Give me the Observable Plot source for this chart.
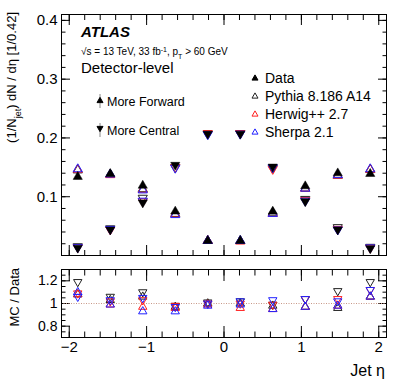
<!DOCTYPE html>
<html><head><meta charset="utf-8">
<script src="https://cdn.jsdelivr.net/npm/d3@7"></script>
<script src="https://cdn.jsdelivr.net/npm/@observablehq/plot@0.6"></script>
<style>
body{margin:0;background:#fff;}
#wrap{position:relative;width:407px;height:387px;font-family:"Liberation Sans",Arial,sans-serif;}
#wrap > *{position:absolute;left:0;}
</style></head>
<body><div id="wrap"></div>
<script>
// ---- data ----
const eta = [-1.89, -1.47, -1.05, -0.63, -0.21, 0.21, 0.63, 1.05, 1.47, 1.89];
const dataFwd = [0.134, 0.139, 0.119, 0.075, 0.025, 0.025, 0.075, 0.118, 0.140, 0.139];
const dataCen = [0.013, 0.044, 0.090, 0.154, 0.207, 0.207, 0.151, 0.092, 0.044, 0.012];
const pythiaFwd = [0.145, 0.138, 0.113, 0.071, 0.025, 0.025, 0.073, 0.114, 0.136, 0.146];
const pythiaCen = [0.0155, 0.046, 0.098, 0.150, 0.207, 0.208, 0.149, 0.096, 0.048, 0.0145];
const herwigFwd = [0.146, 0.137, 0.112, 0.070, 0.025, 0.024, 0.071, 0.114, 0.136, 0.146];
const herwigCen = [0.014, 0.044, 0.092, 0.150, 0.208, 0.208, 0.147, 0.094, 0.045, 0.013];
const sherpaFwd = [0.147, 0.138, 0.111, 0.069, 0.025, 0.025, 0.071, 0.114, 0.137, 0.147];
const sherpaCen = [0.014, 0.045, 0.093, 0.149, 0.206, 0.207, 0.150, 0.093, 0.044, 0.0135];
const pythiaFwdR = [1.08, 1.03, 1.06, 0.97, 1.00, 1.00, 0.98, 0.97, 0.96, 1.06];
const pythiaCenR = [1.19, 1.06, 1.10, 0.98, 1.01, 1.02, 0.99, 1.04, 1.11, 1.19];
const herwigFwdR = [1.08, 0.99, 0.97, 0.96, 0.99, 0.96, 0.95, 0.97, 0.98, 1.06];
const herwigCenR = [1.09, 1.02, 1.03, 0.98, 1.00, 1.00, 0.99, 1.04, 1.04, 1.12];
const sherpaFwdR = [1.10, 0.99, 0.93, 0.93, 0.98, 0.99, 0.95, 0.97, 0.98, 1.06];
const sherpaCenR = [1.06, 1.03, 1.05, 0.97, 1.00, 1.02, 1.03, 1.04, 1.02, 1.12];
const generators = ["Pythia 8.186 A14", "Herwig++ 2.7", "Sherpa 2.1"];
const genColors = ["#222222", "#ff2020", "#2020ff"];
const topYTicks = [0.1, 0.2, 0.3, 0.4];
const ratioYTicks = [0.8, 1, 1.2];
const xTicks = [-2, -1, 0, 1, 2];

// ---- build tables ----
function rows(vals, gen, dir) { return eta.map((e, i) => ({eta: e, v: vals[i], gen, dir})); }
const mcTop = [
  ...rows(pythiaFwd, generators[0], "f"), ...rows(pythiaCen, generators[0], "c"),
  ...rows(herwigFwd, generators[1], "f"), ...rows(herwigCen, generators[1], "c"),
  ...rows(sherpaFwd, generators[2], "f"), ...rows(sherpaCen, generators[2], "c")];
const dataTop = [...rows(dataFwd, "Data", "f"), ...rows(dataCen, "Data", "c")];
const mcRatio = [
  ...rows(pythiaFwdR, generators[0], "f"), ...rows(pythiaCenR, generators[0], "c"),
  ...rows(herwigFwdR, generators[1], "f"), ...rows(herwigCenR, generators[1], "c"),
  ...rows(sherpaFwdR, generators[2], "f"), ...rows(sherpaCenR, generators[2], "c")];

const colorOf = g => genColors[generators.indexOf(g)];
const range = (a, b, s) => d3.range(Math.round((b - a) / s) + 1).map(i => +(a + i * s).toFixed(4));

function tickAxes(xMaj, xMin, yMaj, yMin, xl, yl) {
  const blank = () => "";
  const o = {label: null, tickFormat: blank, stroke: "black"};
  return [
    Plot.axisX(xMaj, {...o, anchor: "bottom", tickSize: -xl}),
    Plot.axisX(xMin, {...o, anchor: "bottom", tickSize: -xl / 2}),
    Plot.axisX(xMaj, {...o, anchor: "top", tickSize: -xl}),
    Plot.axisX(xMin, {...o, anchor: "top", tickSize: -xl / 2}),
    Plot.axisY(yMaj, {...o, anchor: "left", tickSize: -yl}),
    Plot.axisY(yMin, {...o, anchor: "left", tickSize: -yl / 2}),
    Plot.axisY(yMaj, {...o, anchor: "right", tickSize: -yl}),
    Plot.axisY(yMin, {...o, anchor: "right", tickSize: -yl / 2})
  ];
}
const font = '"Liberation Sans", Arial, sans-serif';
const R = 3.4;

const topPlot = Plot.plot({
  width: 407, height: 256,
  marginLeft: 61, marginRight: 21, marginTop: 14, marginBottom: 1,
  x: {domain: [-2.1, 2.1]},
  y: {domain: [0, 0.41]},
  style: {fontFamily: font, fontSize: "15px", color: "black", background: "transparent"},
  marks: [
    ...tickAxes(xTicks, range(-2, 2, 0.2), topYTicks, range(0, 0.4, 0.02), 10, 9),
    Plot.axisY(topYTicks, {anchor: "left", label: null, tickSize: 0, tickPadding: 4, tickFormat: d => d.toFixed(1), fontSize: 15}),
    Plot.dot(mcTop, {x: "eta", y: "v", symbol: "triangle", r: R, rotate: d => d.dir === "c" ? 180 : 0,
      stroke: d => colorOf(d.gen), fill: "none", strokeWidth: 1}),
    Plot.dot(dataTop, {x: "eta", y: "v", symbol: "triangle", r: R, rotate: d => d.dir === "c" ? 180 : 0,
      fill: "black", stroke: "black", strokeWidth: 0.5}),
    Plot.frame({stroke: "black", strokeWidth: 1})
  ]
});

const ratioPlot = Plot.plot({
  width: 407, height: 131,
  marginLeft: 61, marginRight: 21, marginTop: 13, marginBottom: 50,
  x: {domain: [-2.1, 2.1]},
  y: {domain: [0.7, 1.3]},
  style: {fontFamily: font, fontSize: "15px", color: "black", background: "transparent"},
  marks: [
    ...tickAxes(xTicks, range(-2, 2, 0.2), ratioYTicks, range(0.75, 1.25, 0.05), 11, 9),
    Plot.axisY(ratioYTicks, {anchor: "left", label: null, tickSize: 0, tickPadding: 4, tickFormat: d => d === 1 ? "1" : d.toFixed(1), fontSize: 14}),
    Plot.axisX(xTicks, {anchor: "bottom", label: null, tickSize: 0, tickPadding: 4, fontSize: 15}),
    Plot.ruleY([1], {stroke: "#c89888", strokeDasharray: "1,1.5", strokeWidth: 1}),
    Plot.dot(mcRatio, {x: "eta", y: "v", symbol: "triangle", r: 3.1, rotate: d => d.dir === "c" ? 180 : 0,
      stroke: d => colorOf(d.gen), fill: "none", strokeWidth: 1}),
    Plot.frame({stroke: "black", strokeWidth: 1})
  ]
});

const wrap = document.getElementById("wrap");
topPlot.style.top = "0px";
ratioPlot.style.top = "256px";
wrap.append(topPlot, ratioPlot);

// ---- text overlay (titles, legend) ----
const svg = d3.select(wrap).append("svg").attr("width", 407).attr("height", 387)
  .style("top", "0px").style("font-family", font);

function tri(g, x, y, size, down, fill, stroke) {
  const h = size * 0.87;
  const p = down ? `M${x - size / 2},${y - h / 2}L${x + size / 2},${y - h / 2}L${x},${y + h / 2}Z`
                 : `M${x - size / 2},${y + h / 2}L${x + size / 2},${y + h / 2}L${x},${y - h / 2}Z`;
  g.append("path").attr("d", p).attr("fill", fill).attr("stroke", stroke).attr("stroke-width", 1);
}

svg.append("text").attr("x", 81).attr("y", 37).attr("font-size", 15).attr("font-weight", "bold")
  .attr("font-style", "italic").text("ATLAS");
const s = svg.append("text").attr("x", 81).attr("y", 55).attr("font-size", 10);
s.append("tspan").text("√s = 13 TeV, 33 fb");
s.append("tspan").attr("baseline-shift", "super").attr("font-size", 7).text("-1");
s.append("tspan").text(", p");
s.append("tspan").attr("baseline-shift", "sub").attr("font-size", 7).text("T");
s.append("tspan").text(" > 60 GeV");
svg.append("text").attr("x", 81).attr("y", 73).attr("font-size", 15).text("Detector-level");

// direction legend
svg.append("line").attr("x1", 100).attr("x2", 100).attr("y1", 94).attr("y2", 108).attr("stroke", "#888");
tri(svg, 100, 100, 6, false, "black", "black");
svg.append("text").attr("x", 107).attr("y", 105.5).attr("font-size", 12.5).text("More Forward");
svg.append("line").attr("x1", 100).attr("x2", 100).attr("y1", 123).attr("y2", 137).attr("stroke", "#888");
tri(svg, 100, 129, 6, true, "black", "black");
svg.append("text").attr("x", 107).attr("y", 134.5).attr("font-size", 12.5).text("More Central");

// generator legend
const leg = [["Data", "black", "black"], [generators[0], "white", genColors[0]],
             [generators[1], "white", genColors[1]], [generators[2], "white", genColors[2]]];
leg.forEach(([t, f, st], i) => {
  const y = 77.5 + i * 18;
  tri(svg, 255, y, 6, false, f, st);
  svg.append("text").attr("x", 265).attr("y", y + 5).attr("font-size", 14).text(t);
});

// axis titles
const yt = svg.append("text").attr("transform", "translate(16,12) rotate(-90)")
  .attr("text-anchor", "end").attr("font-size", 13);
yt.append("tspan").text("(1/N");
yt.append("tspan").attr("baseline-shift", "sub").attr("font-size", 9).text("jet");
yt.append("tspan").text(") dN / dη [1/0.42]");
svg.append("text").attr("transform", "translate(19,268) rotate(-90)")
  .attr("text-anchor", "end").attr("font-size", 13).text("MC / Data");
svg.append("text").attr("x", 385).attr("y", 376).attr("text-anchor", "end").attr("font-size", 16).text("Jet η");
</script></body></html>
